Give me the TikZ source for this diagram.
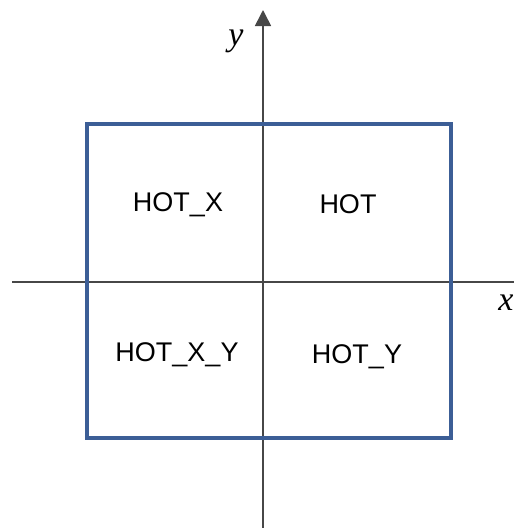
\documentclass[tikz,border=0pt]{standalone}
\usepackage{fontspec}
\setmainfont{Liberation Sans}
\newfontfamily\axisfont{Liberation Serif}
\usetikzlibrary{arrows.meta, positioning, calc}
\definecolor{framecol}{RGB}{60,94,150}

\begin{document}
\begin{tikzpicture}[
  x=1pt, y=-1pt,
  font=\fontsize{27}{30}\selectfont,
  axis/.style={line width=1.6pt, color=black!72},
  arr/.style={axis, -{Triangle[length=16pt, width=16pt]}},
  frame/.style={draw=framecol, line width=4pt},
  zone/.style={inner sep=0pt, anchor=base},
  axlbl/.style={inner sep=0pt, anchor=base, font=\axisfont\itshape\fontsize{34}{34}\selectfont}
]
\useasboundingbox (0,0) rectangle (514,528);
% axes
\coordinate (xl) at (12,282);
\coordinate (xr) at (514,282);
\coordinate (yb) at (263,528);
\coordinate (yt) at (263,10);
\draw[axis] (xl) -- (xr);
\draw[arr] (yb) -- (yt);
\node[axlbl] (ylab) at (236,45) {y};
\node[axlbl] (xlab) at (506,310) {x};
% region frame
\coordinate (sw) at (87,438);
\coordinate (ne) at (451,124);
\draw[frame] (sw) rectangle (ne);
\node[zone] (hotx) at (178,211) {HOT\_X};
\node[zone] (hot) at (348,213) {HOT};
\node[zone] (hotxy) at (177,361) {HOT\_X\_Y};
\node[zone] (hoty) at (357,363) {HOT\_Y};
\end{tikzpicture}
\end{document}
